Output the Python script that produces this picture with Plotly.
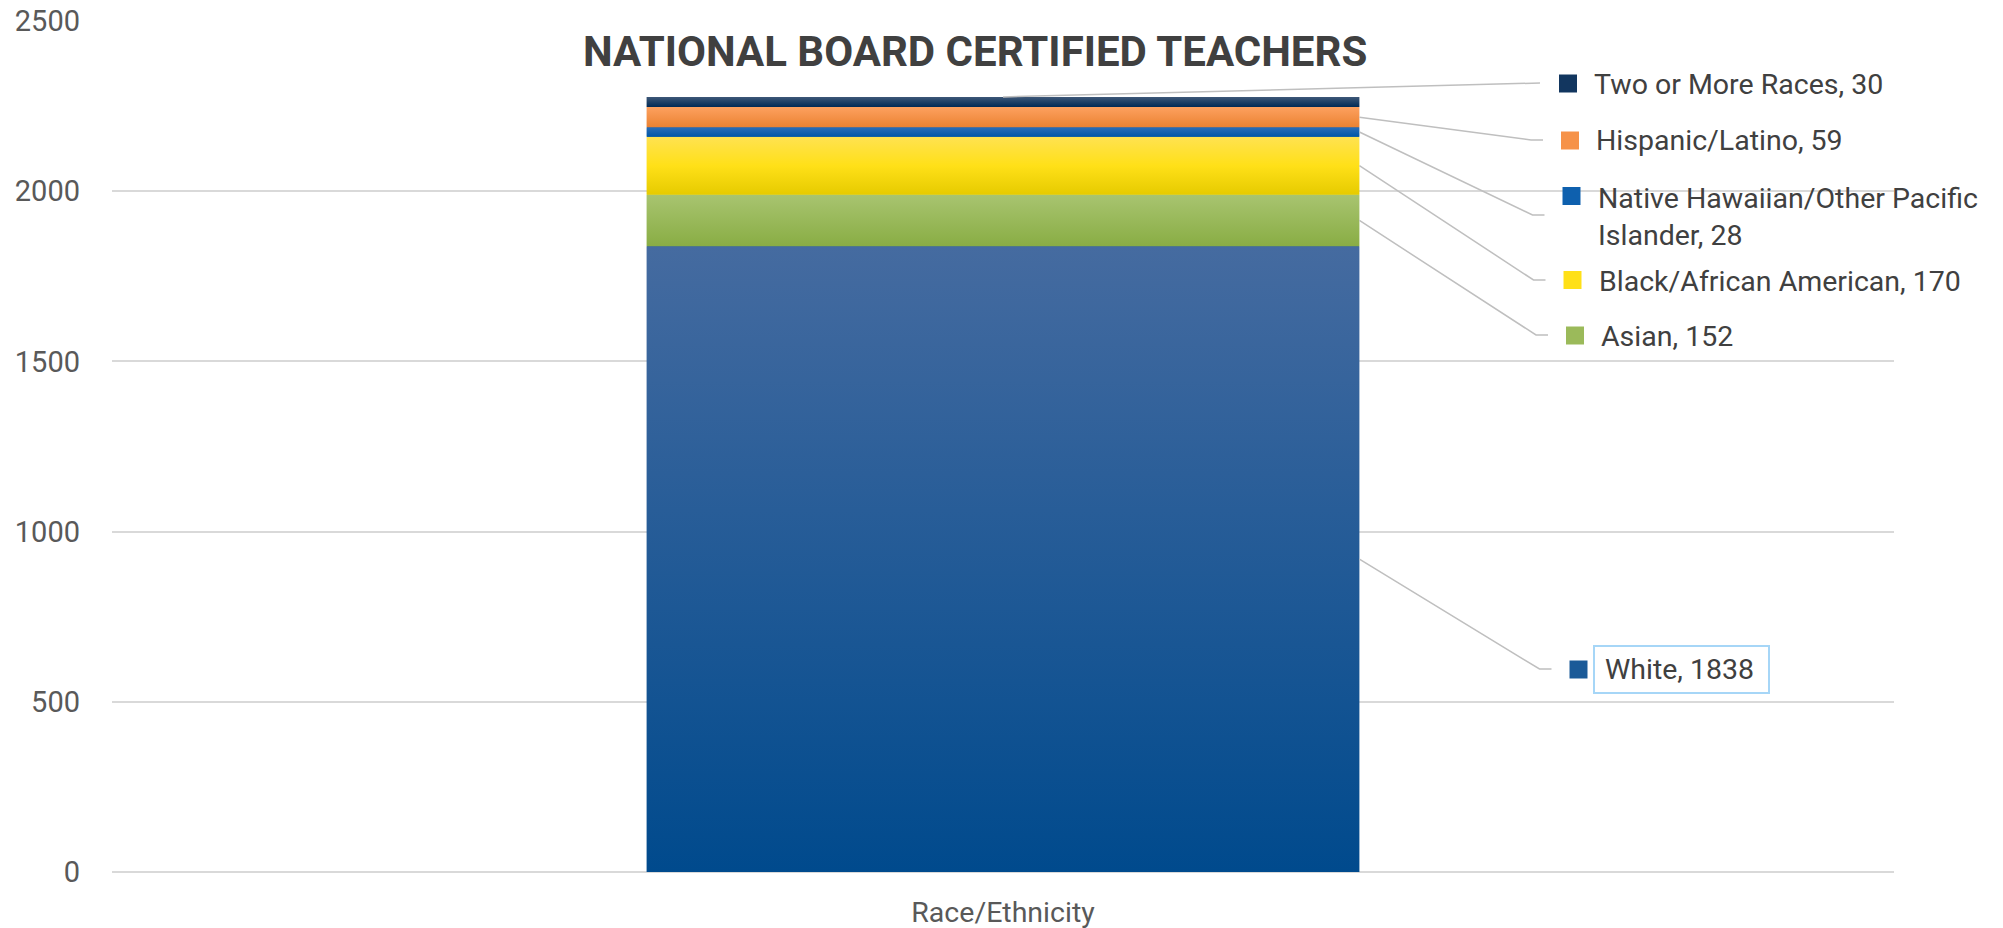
import textwrap
import plotly.graph_objects as go

# ---------------- data ----------------
categories = ["White", "Asian", "Black/African American",
              "Native Hawaiian/Other Pacific Islander", "Hispanic/Latino",
              "Two or More Races"]
values = [1838, 152, 170, 28, 59, 30]
x_category = ["Race/Ethnicity"]
y_ticks = [0, 500, 1000, 1500, 2000, 2500]
title_text = "NATIONAL BOARD CERTIFIED TEACHERS"

# ---------------- styles ----------------
top_colors = ["#456BA0", "#A8C470", "#FFE251", "#2B6DB7", "#FDA15F", "#3E5878"]
mid_colors = ["#1A5A98", "#9BBA5A", "#FFE018", "#0E60AE", "#F69248", "#12365F"]
bot_colors = ["#004A8D", "#89AD44", "#E6CB00", "#0056A7", "#EB8232", "#002A55"]

W, H = 2003, 928
ML, MR, MT, MB = 112, 109, 21, 56
PW, PH = W - ML - MR, H - MT - MB
YMAX = 2500
XMIN, XMAX = -0.5, 0.5
BAR_W = 0.4
FONT = "Roboto"

# label layout (pixel positions of Excel's data-label placement)
label_text_x = [1603, 1599, 1597, 1596, 1594, 1591.5]
label_text_y = [669, 336, 281, 216.7, 141, 84]
square_cx = [1578.5, 1575, 1572.5, 1571.5, 1570, 1568]
square_cy = [669.5, 335.5, 280, 196, 140.5, 83.5]
leader_end_y = [669, 335, 280, 215, 140, 83]
SQ = 18


def px_x(px):
    return (px - ML) / PW


def px_y(py):
    return (H - MB - py) / PH


def dx_paper(x):
    return (x - XMIN) / (XMAX - XMIN)


def dy_paper(y):
    return y / YMAX


fig = go.Figure()

bases = []
acc = 0
for v in values:
    bases.append(acc)
    acc += v

for cat, v, c in zip(categories, values, mid_colors):
    fig.add_trace(go.Bar(x=[0], y=[v], width=BAR_W, name=cat,
                         marker=dict(color=c, line=dict(width=0)),
                         showlegend=False))

# gradient overlay for each stacked segment
x0, x1 = -BAR_W / 2, BAR_W / 2
for i, v in enumerate(values):
    b, t = bases[i], bases[i] + v
    if i == 2:
        cs = [[0, bot_colors[i]], [0.5, mid_colors[i]], [1, top_colors[i]]]
    else:
        cs = [[0, bot_colors[i]], [1, top_colors[i]]]
    fig.add_trace(go.Scatter(x=[x0, x1, x1, x0, x0], y=[b, b, t, t, b],
                             mode="lines", fill="toself", line=dict(width=0),
                             fillgradient=dict(type="vertical", colorscale=cs),
                             hoverinfo="skip", showlegend=False))

shapes = []
annotations = []
for i, (cat, v) in enumerate(zip(categories, values)):
    label = "<br>".join(textwrap.wrap(f"{cat}, {v}", 29))
    # leader line
    if i == len(values) - 1:
        sx, sy = dx_paper(0), dy_paper(bases[i] + v)
        path = (f"M {sx},{sy} L {px_x(square_cx[i] - 28)},{px_y(leader_end_y[i])}")
    else:
        sx, sy = dx_paper(BAR_W / 2), dy_paper(bases[i] + v / 2)
        ex = px_x(square_cx[i] - 39)
        hx = px_x(square_cx[i] - 27)
        ey = px_y(leader_end_y[i])
        path = f"M {sx},{sy} L {ex},{ey} L {hx},{ey}"
    shapes.append(dict(type="path", path=path, xref="paper", yref="paper",
                       line=dict(color="#BFBFBF", width=1.5)))
    # legend-key square
    shapes.append(dict(type="rect", xref="paper", yref="paper",
                       x0=px_x(square_cx[i] - SQ / 2), x1=px_x(square_cx[i] + SQ / 2),
                       y0=px_y(square_cy[i] + SQ / 2), y1=px_y(square_cy[i] - SQ / 2),
                       fillcolor=mid_colors[i], line=dict(width=0)))
    annotations.append(dict(text=label, xref="paper", yref="paper",
                            x=px_x(label_text_x[i]), y=px_y(label_text_y[i]),
                            xanchor="left", yanchor="middle", align="left",
                            showarrow=False,
                            font=dict(family=FONT, size=28.5, color="#404040")))

# selection-style box around the White label
shapes.append(dict(type="rect", xref="paper", yref="paper",
                   x0=px_x(1594), x1=px_x(1769), y0=px_y(693), y1=px_y(646),
                   line=dict(color="#A6D6F7", width=2), fillcolor="rgba(0,0,0,0)"))

annotations.append(dict(text=f"<b>{title_text}</b>", xref="paper", yref="paper",
                        x=px_x(975), y=px_y(51.5), xanchor="center", yanchor="middle",
                        showarrow=False,
                        font=dict(family=FONT, size=42, color="#404040")))

fig.update_layout(
    width=W, height=H,
    margin=dict(l=ML, r=MR, t=MT, b=MB, pad=0, autoexpand=False),
    paper_bgcolor="white", plot_bgcolor="white",
    barmode="stack",
    shapes=shapes, annotations=annotations,
    font=dict(family=FONT, color="#595959"),
    xaxis=dict(range=[XMIN, XMAX], tickvals=[0], ticktext=x_category,
               showgrid=False, zeroline=False, showline=False, ticks="",
               automargin=False, ticklabelstandoff=20,
               tickfont=dict(family=FONT, size=28.5, color="#595959")),
    yaxis=dict(range=[0, YMAX], tickvals=y_ticks, showgrid=True,
               gridcolor="#D9D9D9", gridwidth=1.5, zeroline=True,
               zerolinecolor="#D9D9D9", zerolinewidth=1.5, showline=False,
               ticks="", ticklabelstandoff=31, automargin=False,
               tickfont=dict(family=FONT, size=29, color="#595959")),
)

fig.write_html("out.html")
